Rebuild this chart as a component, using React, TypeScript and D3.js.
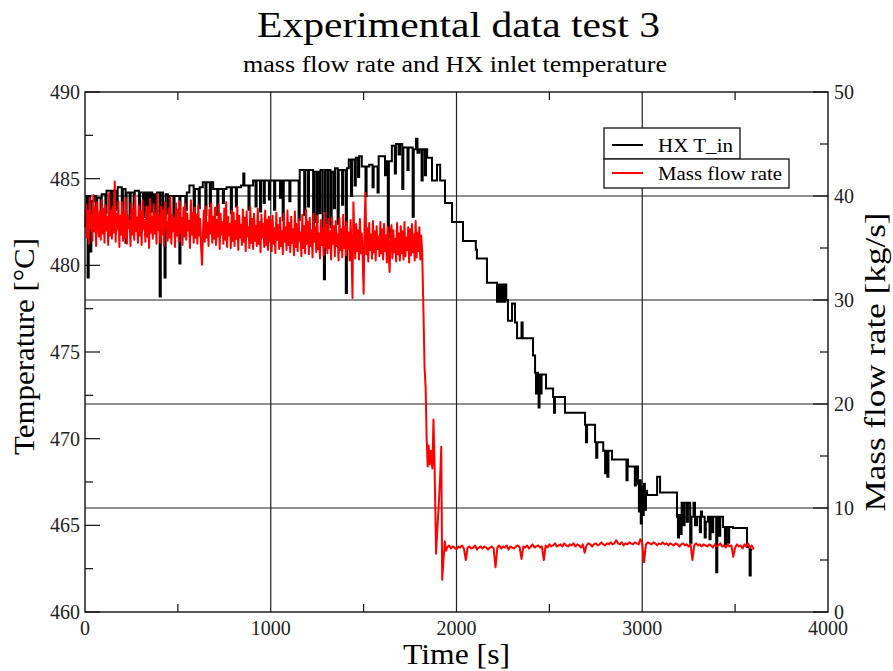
import React from "react";
import * as d3 from "d3";

const W = 893;
const H = 671;
const PLOT = { x0: 85, x1: 828, y0: 92, y1: 612 };

// Axis tick values
const timeMajor = [0, 1000, 2000, 3000, 4000];
const timeMinor = [500, 1500, 2500, 3500];
const tempMajor = [460, 465, 470, 475, 480, 485, 490];
const tempMinor = [462.5, 467.5, 472.5, 477.5, 482.5, 487.5];
const flowMajor = [0, 10, 20, 30, 40, 50];
const flowMinor = [5, 15, 25, 35, 45];
const flowGrid = [10, 20, 30, 40];
const timeGrid = [1000, 2000, 3000];

// Mass flow rate [kg/s], steady part, sampled every 5 s from t = 0 s
const flowBeforeStep = 5;
const flowBefore = [
  37.0, 39.2, 36.0, 38.6, 35.4, 39.8, 36.9, 38.2, 35.7, 40.1, 36.6, 38.9, 35.2, 39.4, 37.3, 36.1, 38.5, 35.8, 39.6, 36.4,
  38.8, 35.5, 39.1, 36.7, 38.0, 35.3, 40.3, 36.2, 38.6, 35.9, 39.0, 36.5, 41.4, 35.6, 38.3, 36.8, 39.5, 35.1, 38.1, 36.3,
  39.4, 35.7, 38.4, 36.0, 39.8, 35.4, 38.2, 36.9, 37.6, 35.2, 39.3, 36.3, 38.7, 35.8, 40.0, 36.6, 37.9, 35.5, 39.1, 36.2,
  38.5, 35.3, 39.6, 36.8, 37.7, 35.6, 39.0, 36.1, 38.9, 35.0, 39.7, 36.5, 38.0, 35.9, 39.2, 36.4, 38.3, 35.4, 40.2, 36.7,
  38.1, 35.5, 39.0, 36.3, 38.6, 35.2, 39.4, 36.8, 37.5, 35.7, 38.8, 36.0, 39.9, 35.4, 38.2, 36.6, 37.8, 35.1, 39.3, 36.2,
  38.7, 35.6, 39.5, 36.4, 37.9, 35.3, 38.9, 36.1, 39.2, 35.8, 38.3, 36.7, 37.6, 35.0, 39.6, 36.3, 38.4, 35.5, 38.9, 36.0,
  38.2, 35.4, 39.1, 36.2, 37.8, 35.1, 33.4, 36.5, 38.6, 35.6, 39.0, 36.0, 37.4, 35.2, 38.7, 36.4, 39.3, 35.5, 38.0, 35.9,
  38.9, 35.3, 37.7, 36.1, 39.2, 34.9, 38.3, 36.3, 37.5, 35.4, 38.8, 35.8, 39.4, 35.1, 38.0, 36.2, 37.3, 35.0, 38.6, 35.7,
  38.4, 35.2, 37.6, 35.9, 39.0, 34.8, 38.1, 36.0, 37.2, 35.3, 38.7, 35.6, 37.9, 34.7, 38.5, 36.1, 37.0, 35.0, 38.9, 35.5,
  37.8, 34.9, 38.3, 35.7, 37.1, 35.2, 38.8, 35.4, 37.5, 34.6, 38.2, 36.0, 37.3, 35.1, 38.6, 35.3, 37.7, 34.8, 38.0, 35.6,
  37.6, 34.7, 38.1, 35.4, 36.9, 34.5, 38.4, 35.8, 37.2, 34.9, 37.9, 35.2, 36.6, 34.4, 38.3, 35.6, 37.0, 34.8, 38.6, 35.3,
  37.4, 34.6, 38.0, 35.5, 36.8, 34.3, 38.5, 35.1, 37.3, 34.7, 37.8, 35.7, 36.5, 34.2, 38.2, 35.0, 37.1, 34.5, 38.7, 35.4,
  37.5, 34.4, 37.9, 35.2, 36.7, 34.1, 38.3, 35.6, 37.0, 34.6, 38.1, 34.9, 36.4, 34.0, 37.7, 35.3, 36.9, 34.3, 38.4, 35.1,
  37.2, 34.5, 37.8, 35.0, 36.6, 33.9, 38.0, 35.4, 37.1, 34.2, 37.6, 35.2, 36.3, 33.8, 37.9, 34.8, 36.8, 34.1, 38.2, 35.0,
  37.0, 34.3, 37.5, 34.9, 36.5, 33.8, 37.7, 34.6, 30.2, 39.4, 36.2, 34.0, 37.3, 34.7, 36.7, 33.9, 37.8, 34.5, 36.4, 34.1,
  30.6, 37.2, 40.3, 34.4, 36.9, 33.7, 37.4, 34.8, 36.3, 34.0, 37.6, 34.6, 36.6, 33.8, 37.1, 34.9, 36.1, 34.2, 37.5, 34.5,
  36.8, 33.9, 37.3, 34.7, 36.2, 33.6, 37.0, 34.3, 32.7, 36.5, 37.2, 34.0, 36.7, 34.6, 35.9, 33.7, 37.4, 34.4, 36.4, 33.8,
  37.1, 34.5, 36.6, 33.9, 37.5, 34.2, 36.0, 34.8, 37.0, 33.6, 36.8, 34.3, 37.3, 34.6, 36.3, 33.8, 37.6, 34.1, 36.5, 34.7,
  37.0, 33.9, 36.2, 34.8,
];

// Mass flow rate during the pump trip: [time s, kg/s]
const flowDrop: [number, number][] = [
  [1822, 29.0], [1828, 23.5], [1834, 21.5], [1839, 16.8], [1845, 14.0], [1850, 16.0],
  [1856, 14.2], [1862, 15.5], [1870, 13.8], [1876, 18.5], [1882, 14.0], [1890, 5.6], [1897, 8.0],
  [1905, 10.5], [1912, 13.0], [1918, 15.9], [1923, 3.1], [1930, 5.0], [1937, 6.8], [1944, 5.9],
];

// Mass flow rate after the trip, sampled every 10 s from t = 1950 s
const flowAfterStart = 1950;
const flowAfterStep = 10;
const flowAfter = [
  6.2, 6.4, 6.1, 6.3, 6.2, 6.0, 6.3, 6.2, 6.4, 6.1, 5.0, 6.2, 6.3, 6.1, 6.2, 6.4, 6.0, 6.2, 6.3, 6.1,
  6.3, 6.2, 6.0, 6.2, 6.3, 6.1, 4.3, 6.2, 6.4, 6.1, 6.3, 6.2, 6.4, 6.0, 6.3, 6.2, 6.1, 6.3, 6.4, 6.2,
  5.1, 6.3, 6.2, 6.4, 6.1, 6.3, 6.5, 6.2, 6.3, 6.4, 6.2, 6.3, 5.0, 6.4, 6.2, 6.5, 6.3, 6.4, 6.6, 6.3,
  6.4, 6.5, 6.3, 6.6, 6.4, 6.3, 6.5, 6.4, 6.6, 6.3, 6.5, 6.4, 6.2, 6.5, 5.7, 6.4, 6.6, 6.5, 6.3, 6.5,
  6.6, 6.4, 6.5, 6.7, 6.5, 6.4, 6.6, 6.5, 6.7, 6.5, 6.6, 6.9, 6.6, 6.5, 6.7, 6.4, 6.6, 6.5, 6.7, 6.6,
  6.5, 6.7, 6.6, 6.5, 7.0, 6.6, 4.8, 6.5, 6.7, 6.6, 6.5, 6.7, 6.6, 6.4, 6.6, 6.5, 6.7, 6.5, 6.6, 6.4,
  6.6, 6.5, 6.4, 6.6, 6.5, 6.3, 6.5, 6.6, 6.4, 6.5, 6.3, 6.5, 5.0, 6.4, 6.6, 6.4, 6.5, 6.3, 6.5, 6.4,
  6.3, 6.5, 6.4, 6.2, 6.5, 6.3, 6.4, 6.6, 6.3, 6.4, 6.2, 6.5, 6.3, 6.4, 5.3, 6.2, 6.5, 6.3, 6.4, 6.1,
  6.5, 6.3, 6.6, 6.2, 6.4, 6.0,
];

// HX inlet temperature [°C], step changes: [time s, value]
const tinSteps: [number, number][] = [
  [0, 483.2], [8, 484.0], [14, 479.3], [20, 484.0], [28, 480.8], [34, 483.7], [48, 484.0], [60, 482.2],
  [66, 483.9], [84, 482.6], [90, 484.1], [110, 483.0], [116, 484.3], [140, 482.8], [146, 484.3], [158, 483.4],
  [162, 484.3], [170, 483.2], [176, 484.5], [198, 482.1], [204, 484.4], [218, 481.3], [224, 484.2], [240, 482.5],
  [246, 484.2], [262, 483.0], [268, 484.3], [290, 482.6], [296, 484.2], [312, 482.8], [318, 484.2], [326, 483.0],
  [332, 484.2], [338, 482.9], [342, 484.2], [345, 482.9], [352, 484.2], [362, 483.1], [368, 484.1], [374, 482.9],
  [378, 484.1], [382, 482.8], [388, 484.2], [402, 478.2], [408, 484.2], [420, 482.9], [428, 479.3], [434, 484.1],
  [446, 483.0], [452, 484.0], [476, 482.8], [482, 484.0], [508, 480.1], [514, 484.0], [540, 483.2], [548, 484.2],
  [562, 484.6], [585, 482.7], [592, 484.4], [612, 483.3], [618, 484.5], [634, 484.8], [648, 482.9], [654, 484.8],
  [672, 483.4], [678, 484.8], [690, 484.4], [712, 482.9], [718, 484.4], [742, 483.6], [748, 484.4], [762, 484.5],
  [785, 483.0], [791, 484.5], [812, 483.4], [818, 484.5], [840, 484.6], [852, 485.3], [858, 484.6], [880, 483.2],
  [886, 484.6], [905, 484.9], [918, 483.4], [924, 484.9], [942, 483.1], [948, 484.9], [962, 483.6], [968, 484.9],
  [990, 483.8], [996, 484.9], [1018, 483.2], [1024, 484.9], [1050, 483.9], [1056, 484.9], [1064, 482.6], [1070, 484.9],
  [1100, 483.7], [1106, 484.9], [1150, 482.6], [1156, 485.5], [1180, 482.9], [1186, 485.5], [1200, 483.4], [1206, 485.5],
  [1228, 482.1], [1234, 485.4], [1246, 482.5], [1252, 485.4], [1262, 483.0], [1268, 485.5], [1280, 482.0], [1286, 479.2],
  [1292, 485.5], [1304, 482.4], [1310, 485.5], [1322, 482.2], [1328, 485.4], [1340, 483.3], [1346, 485.6], [1360, 482.4],
  [1366, 485.5], [1384, 483.5], [1390, 485.5], [1404, 478.4], [1410, 485.6], [1420, 486.1], [1432, 484.0], [1438, 486.1],
  [1452, 484.6], [1458, 486.2], [1470, 485.1], [1476, 486.3], [1490, 485.7], [1496, 485.7], [1510, 484.0], [1516, 485.7],
  [1530, 485.8], [1548, 484.5], [1554, 485.7], [1575, 484.2], [1581, 486.3], [1600, 486.3], [1615, 485.2], [1621, 486.0],
  [1630, 481.6], [1636, 486.0], [1652, 486.9], [1668, 485.3], [1674, 487.0], [1688, 486.4], [1696, 487.0], [1708, 484.4],
  [1714, 486.8], [1736, 485.5], [1742, 486.8], [1764, 482.8], [1770, 486.7], [1782, 487.3], [1790, 486.5], [1800, 486.7],
  [1812, 484.9], [1818, 486.7], [1830, 485.2], [1836, 486.7], [1842, 486.2], [1868, 484.9], [1895, 485.8], [1912, 484.9],
  [1938, 483.6], [1976, 482.5], [2035, 481.4], [2104, 480.9], [2110, 480.4], [2164, 479.0], [2218, 477.9], [2223, 478.9],
  [2228, 477.9], [2233, 478.9], [2238, 477.9], [2243, 478.9], [2248, 477.9], [2253, 478.9], [2258, 477.9], [2263, 478.9],
  [2268, 478.0], [2277, 476.8], [2299, 477.8], [2315, 476.7], [2326, 475.8], [2350, 476.7], [2356, 475.8], [2412, 474.8],
  [2423, 473.8], [2428, 472.6], [2433, 473.8], [2438, 472.6], [2442, 471.8], [2447, 473.7], [2452, 472.6], [2458, 473.7],
  [2482, 472.9], [2520, 472.4], [2525, 471.5], [2530, 472.4], [2584, 471.5], [2692, 470.8], [2697, 469.8], [2703, 470.8],
  [2746, 469.8], [2752, 468.9], [2758, 469.8], [2790, 469.3], [2800, 468.0], [2806, 469.3], [2812, 467.8], [2818, 469.3],
  [2837, 468.8], [2915, 467.6], [2921, 468.8], [2923, 468.4], [2960, 467.3], [2966, 468.4], [2977, 467.4], [2982, 465.8],
  [2987, 467.6], [2992, 465.1], [2997, 467.2], [3002, 465.6], [3008, 467.4], [3014, 465.9], [3020, 467.0], [3026, 466.75],
  [3080, 467.8], [3096, 466.9], [3187, 465.5], [3192, 464.3], [3198, 465.6], [3205, 464.5], [3212, 466.3], [3222, 465.0],
  [3228, 466.3], [3240, 465.2], [3246, 466.3], [3258, 464.0], [3265, 465.5], [3276, 466.3], [3284, 465.0], [3295, 465.5],
  [3310, 464.6], [3316, 465.8], [3322, 465.5], [3336, 464.3], [3342, 465.2], [3354, 465.5], [3362, 464.2], [3368, 465.5],
  [3376, 464.6], [3382, 465.5], [3398, 462.3], [3404, 465.5], [3414, 464.4], [3420, 465.5], [3435, 464.9], [3445, 463.9],
  [3451, 464.9], [3462, 464.0], [3468, 464.9], [3489, 464.85], [3564, 463.75], [3578, 462.1], [3584, 463.6], [3592, 463.6],
];

const legendItems = ["HX T_in", "Mass flow rate"];
const seriesColors = ["#000000", "#ff0000"];

const FONT = '"Liberation Serif", "Times New Roman", Times, serif';

export default function App() {
  const x = d3.scaleLinear().domain([0, 4000]).range([PLOT.x0, PLOT.x1]);
  const yT = d3.scaleLinear().domain([460, 490]).range([PLOT.y1, PLOT.y0]);
  const yF = d3.scaleLinear().domain([0, 50]).range([PLOT.y1, PLOT.y0]);

  const flowPts: [number, number][] = [
    ...flowBefore.map((v, i) => [i * flowBeforeStep, v] as [number, number]),
    ...flowDrop,
    ...flowAfter.map((v, i) => [flowAfterStart + i * flowAfterStep, v] as [number, number]),
  ];

  const tinLine = d3
    .line<[number, number]>()
    .x((d) => x(d[0]))
    .y((d) => yT(d[1]))
    .curve(d3.curveStepAfter)(tinSteps) as string;

  const flowLine = d3
    .line<[number, number]>()
    .x((d) => x(d[0]))
    .y((d) => yF(d[1]))(flowPts) as string;

  const tickColor = "#111";
  const txt = { fontFamily: FONT };

  return (
    <svg
      width={W}
      height={H}
      style={{ position: "absolute", left: 0, top: 0, background: "#fff", fontFamily: FONT }}
    >
      <rect x={0} y={0} width={W} height={H} fill="#fff" />
      {/* Titles */}
      <text style={txt} x={458.5} y={37} fontSize={35} textAnchor="middle" textLength={403} lengthAdjust="spacingAndGlyphs" fill="#000">
        Experimental data test 3
      </text>
      <text style={txt} x={455} y={72} fontSize={23} textAnchor="middle" textLength={424} lengthAdjust="spacingAndGlyphs" fill="#000">
        mass flow rate and HX inlet temperature
      </text>

      {/* Grid */}
      {flowGrid.map((v) => (
        <line key={"gh" + v} x1={PLOT.x0} x2={PLOT.x1} y1={yF(v)} y2={yF(v)} stroke="#222" strokeWidth={1.2} />
      ))}
      {timeGrid.map((v) => (
        <line key={"gv" + v} x1={x(v)} x2={x(v)} y1={PLOT.y0} y2={PLOT.y1} stroke="#222" strokeWidth={1.2} />
      ))}

      {/* Ticks: bottom & top */}
      {timeMinor.map((v) => (
        <g key={"tm" + v}>
          <line x1={x(v)} x2={x(v)} y1={PLOT.y1} y2={PLOT.y1 - 8} stroke={tickColor} strokeWidth={1.2} />
          <line x1={x(v)} x2={x(v)} y1={PLOT.y0} y2={PLOT.y0 + 8} stroke={tickColor} strokeWidth={1.2} />
        </g>
      ))}
      {/* Left ticks */}
      {tempMajor.map((v) => (
        <line key={"lt" + v} x1={PLOT.x0} x2={PLOT.x0 + 15} y1={yT(v)} y2={yT(v)} stroke={tickColor} strokeWidth={1.2} />
      ))}
      {tempMinor.map((v) => (
        <line key={"ltm" + v} x1={PLOT.x0} x2={PLOT.x0 + 8} y1={yT(v)} y2={yT(v)} stroke={tickColor} strokeWidth={1.2} />
      ))}
      {/* Right ticks */}
      {flowMajor.map((v) => (
        <line key={"rt" + v} x1={PLOT.x1} x2={PLOT.x1 - 15} y1={yF(v)} y2={yF(v)} stroke={tickColor} strokeWidth={1.2} />
      ))}
      {flowMinor.map((v) => (
        <line key={"rtm" + v} x1={PLOT.x1} x2={PLOT.x1 - 8} y1={yF(v)} y2={yF(v)} stroke={tickColor} strokeWidth={1.2} />
      ))}

      {/* Data */}
      <path d={tinLine} fill="none" stroke={seriesColors[0]} strokeWidth={2} strokeLinejoin="miter" />
      <path d={flowLine} fill="none" stroke={seriesColors[1]} strokeWidth={2} strokeLinejoin="round" />

      {/* Frame */}
      <rect
        x={PLOT.x0}
        y={PLOT.y0}
        width={PLOT.x1 - PLOT.x0}
        height={PLOT.y1 - PLOT.y0}
        fill="none"
        stroke="#111"
        strokeWidth={1.4}
      />

      {/* Tick labels */}
      {timeMajor.map((v) => (
        <text style={txt} key={"xl" + v} x={x(v)} y={635} fontSize={20} textAnchor="middle" fill="#222">
          {v}
        </text>
      ))}
      {tempMajor.map((v) => (
        <text style={txt} key={"yl" + v} x={80} y={yT(v) + 7} fontSize={20} textAnchor="end" fill="#222">
          {v}
        </text>
      ))}
      {flowMajor.map((v) => (
        <text style={txt} key={"yr" + v} x={834} y={yF(v) + 7} fontSize={20} textAnchor="start" fill="#222">
          {v}
        </text>
      ))}

      {/* Axis labels */}
      <text style={txt} x={456.5} y={664} fontSize={30} textAnchor="middle" textLength={107} lengthAdjust="spacingAndGlyphs" fill="#000">
        Time [s]
      </text>
      <text
        style={txt}
        transform="translate(34,346.5) rotate(-90)"
        fontSize={30}
        textAnchor="middle"
        textLength={217}
        lengthAdjust="spacingAndGlyphs"
        fill="#000"
      >
        Temperature [°C]
      </text>
      <text
        style={txt}
        transform="translate(885,362) rotate(-90)"
        fontSize={30}
        textAnchor="middle"
        textLength={299}
        lengthAdjust="spacingAndGlyphs"
        fill="#000"
      >
        Mass flow rate [kg/s]
      </text>

      {/* Legend */}
      <rect x={604} y={128} width={136} height={31} fill="#fff" stroke="#111" strokeWidth={1.3} />
      <rect x={604} y={159} width={185} height={29} fill="#fff" stroke="#111" strokeWidth={1.3} />
      <line x1={612} x2={643} y1={145} y2={145} stroke={seriesColors[0]} strokeWidth={2} />
      <line x1={612} x2={643} y1={173} y2={173} stroke={seriesColors[1]} strokeWidth={2} />
      <text style={txt} x={658} y={152} fontSize={18} textLength={75} lengthAdjust="spacingAndGlyphs" fill="#000">
        {legendItems[0]}
      </text>
      <text style={txt} x={658} y={180} fontSize={18} textLength={124} lengthAdjust="spacingAndGlyphs" fill="#000">
        {legendItems[1]}
      </text>
    </svg>
  );
}
